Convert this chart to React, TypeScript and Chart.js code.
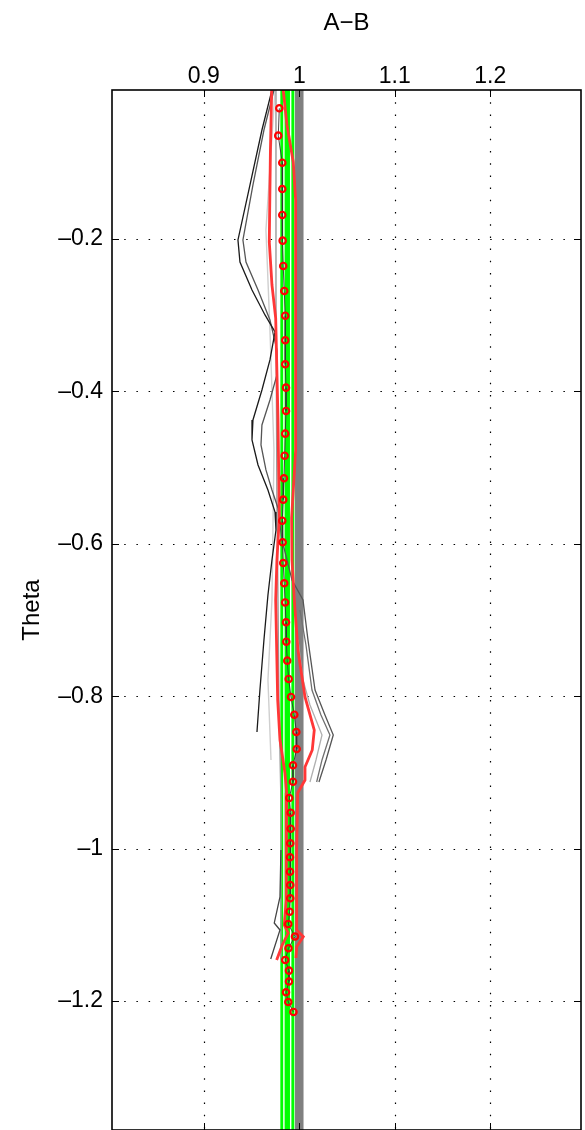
import { useEffect, useRef } from "react";
import { Chart, registerables } from "chart.js";

Chart.register(...registerables);

const FONT = "'Liberation Sans', Arial, Helvetica, sans-serif";

// Axes
const xAxisMin = 0.8039;
const xAxisMax = 1.295;
const yAxisMin = -1.3693;
const yAxisMax = -0.0045;
const xTickValues = [0.9, 1, 1.1, 1.2];
const xTickLabels = ["0.9", "1", "1.1", "1.2"];
const yTickValues = [-0.2, -0.4, -0.6, -0.8, -1, -1.2];
const yTickLabels = ["\u20130.2", "\u20130.4", "\u20130.6", "\u20130.8", "\u20131", "\u20131.2"];

// Reference bands (constant A-B values)
const greyBandX = 1.0;
const greenBandX = 0.9875;
const whiteLineXs = [0.9839, 0.991];

// Red open circles
const circleTheta = [-0.0285, -0.0644, -0.0999, -0.1344, -0.1685, -0.2022, -0.2354, -0.2682, -0.3007, -0.3329, -0.3644, -0.3951, -0.4257, -0.4555, -0.4844, -0.514, -0.5421, -0.5697, -0.598, -0.6252, -0.6518, -0.677, -0.703, -0.7285, -0.7534, -0.7774, -0.801, -0.8243, -0.847, -0.8693, -0.8907, -0.9122, -0.9336, -0.9529, -0.9739, -0.993, -1.0114, -1.0303, -1.0478, -1.0652, -1.0828, -1.099, -1.1154, -1.1308, -1.1462, -1.1602, -1.1744, -1.1885, -1.2013, -1.2144];
const circleX = [0.9791, 0.978, 0.9822, 0.9822, 0.9822, 0.9826, 0.9832, 0.9843, 0.9853, 0.9853, 0.9853, 0.9861, 0.9861, 0.9853, 0.9847, 0.984, 0.9832, 0.9822, 0.9826, 0.9832, 0.9843, 0.9852, 0.9861, 0.9864, 0.9874, 0.9889, 0.9913, 0.9948, 0.9969, 0.9973, 0.9934, 0.9934, 0.9895, 0.991, 0.991, 0.9906, 0.9903, 0.9903, 0.9906, 0.9906, 0.9899, 0.9885, 0.9955, 0.9887, 0.9853, 0.9892, 0.9892, 0.9861, 0.9885, 0.9939];

// Black curve 1
const k1Theta = [-0.0045, -0.057, -0.1291, -0.2013, -0.2302, -0.2669, -0.2997, -0.322, -0.3588, -0.3982, -0.4375, -0.4638, -0.4966, -0.5294, -0.5583, -0.5819, -0.6213, -0.6672, -0.7262, -0.7919, -0.847];
const k1X = [0.9714, 0.9609, 0.9484, 0.9358, 0.9379, 0.9505, 0.9641, 0.9746, 0.9693, 0.9609, 0.9515, 0.9505, 0.9568, 0.9672, 0.9746, 0.9756, 0.9714, 0.9672, 0.963, 0.9588, 0.9557];

// Dark grey curve 2
const k2Theta = [-0.0045, -0.057, -0.1291, -0.2013, -0.2302, -0.2669, -0.3063, -0.3457, -0.3785, -0.4113, -0.4441, -0.4703, -0.5031, -0.5294, -0.553, -0.595, -0.6475, -0.6738, -0.7262, -0.7919, -0.8247, -0.8509, -0.8837, -0.9126];
const k2X = [0.9735, 0.963, 0.9515, 0.941, 0.9442, 0.9568, 0.9693, 0.9766, 0.9766, 0.9693, 0.9609, 0.9599, 0.9651, 0.9714, 0.9777, 0.9819, 0.9924, 1.0039, 1.0091, 1.0165, 1.0269, 1.0356, 1.028, 1.0206];

// Lower dark segment
const k3Theta = [-1.0018, -1.0635, -1.0976, -1.1068, -1.1449];
const k3X = [0.9808, 0.9798, 0.9738, 0.9798, 0.9701];

// Right grey curves
const rg2Theta = [-0.6869, -0.7328, -0.7919, -0.8247, -0.8509, -0.8837, -0.9126];
const rg2X = [1.0007, 1.007, 1.0133, 1.0227, 1.0321, 1.0238, 1.0182];
const rg3Theta = [-0.7262, -0.7787, -0.8115, -0.8509, -0.8837, -0.9126];
const rg3X = [0.9986, 1.0039, 1.0112, 1.0238, 1.0175, 1.0112];

// Grey curves on the left of the band
const g1Theta = [-0.0045, -0.2801, -0.5425, -0.6738, -0.805, -0.9362, -1.1462];
const g1X = [0.9756, 0.9756, 0.9766, 0.9777, 0.9787, 0.9808, 0.9808];
const g2Theta = [-0.0045, -0.1882, -0.3194, -0.4769, -0.6738, -0.7787, -0.8837];
const g2X = [0.9746, 0.9651, 0.9693, 0.9735, 0.9714, 0.9672, 0.9704];

// Red curves
const r1Theta = [-0.0045, -0.0832, -0.2039, -0.2604, -0.3037, -0.4349, -0.5661, -0.6213, -0.6738, -0.805, -0.8575, -0.9008, -0.927, -1.0018, -1.0675, -1.1003, -1.1108, -1.1265, -1.1462];
const r1X = [0.9711, 0.9698, 0.9686, 0.9714, 0.9753, 0.9777, 0.9791, 0.9766, 0.9753, 0.9774, 0.9798, 0.985, 0.9868, 0.9866, 0.9861, 0.9843, 0.9885, 0.9822, 0.9763];
const r2Theta = [-0.0045, -0.0504, -0.099, -0.1488, -0.2801, -0.4769, -0.5661, -0.6213, -0.6738, -0.7394, -0.801, -0.8444, -0.8706, -0.8929, -0.91, -0.927, -1.0018, -1.1068, -1.1156, -1.1288, -1.1436];
const r2X = [0.9832, 0.9871, 0.9937, 0.9962, 0.9962, 0.9962, 0.992, 0.9924, 0.9948, 0.9986, 1.006, 1.0157, 1.0136, 1.006, 1.006, 0.9983, 0.9973, 0.9973, 1.0042, 0.9973, 0.9965];

const pts = (xs: number[], ys: number[]) => xs.map((x, i) => ({ x, y: ys[i] }));
const vline = (x: number) => [{ x, y: yAxisMax }, { x, y: yAxisMin }];

const framePlugin = {
  id: "matlabFrame",
  beforeDatasetsDraw(chart: any) {
    const { ctx, chartArea } = chart;
    const { left, right, top, bottom } = chartArea;
    const xs = chart.scales.x;
    const ys = chart.scales.y;
    ctx.save();
    ctx.strokeStyle = "#000";
    ctx.lineWidth = 1.2;
    ctx.setLineDash([1.5, 10.7]);
    for (const v of xTickValues) {
      const px = Math.round(xs.getPixelForValue(v)) + 0.5;
      ctx.beginPath();
      ctx.moveTo(px, top);
      ctx.lineTo(px, bottom);
      ctx.stroke();
    }
    for (const v of yTickValues) {
      const py = Math.round(ys.getPixelForValue(v)) + 0.5;
      ctx.beginPath();
      ctx.moveTo(left, py);
      ctx.lineTo(right, py);
      ctx.stroke();
    }
    ctx.restore();
  },
  afterDatasetsDraw(chart: any) {
    const { ctx, chartArea } = chart;
    const { left, right, top, bottom } = chartArea;
    const xs = chart.scales.x;
    const ys = chart.scales.y;
    const tl = 7;
    ctx.save();
    ctx.strokeStyle = "#000";
    ctx.lineWidth = 1;
    for (const v of xTickValues) {
      const px = Math.round(xs.getPixelForValue(v)) + 0.5;
      ctx.beginPath();
      ctx.moveTo(px, top);
      ctx.lineTo(px, top + tl);
      ctx.moveTo(px, bottom);
      ctx.lineTo(px, bottom - tl);
      ctx.stroke();
    }
    for (const v of yTickValues) {
      const py = Math.round(ys.getPixelForValue(v)) + 0.5;
      ctx.beginPath();
      ctx.moveTo(left, py);
      ctx.lineTo(left + tl, py);
      ctx.moveTo(right, py);
      ctx.lineTo(right - tl, py);
      ctx.stroke();
    }
    ctx.lineWidth = 1.6;
    ctx.strokeRect(left, top, right - left, bottom - top);
    ctx.restore();
  },
};

export default function App() {
  const ref = useRef<HTMLCanvasElement | null>(null);

  useEffect(() => {
    if (!ref.current) return;
    const line = (data: any[], color: string, width: number, order: number) => ({
      data,
      showLine: true,
      borderColor: color,
      borderWidth: width,
      pointRadius: 0,
      fill: false,
      tension: 0,
      order,
      clip: 0,
    });
    const datasets: any[] = [
      line(vline(greyBandX), "#808080", 8.5, 100),
      line(vline(greenBandX), "#00ff00", 14, 99),
      line(vline(whiteLineXs[0]), "#ffffff", 1.4, 98),
      line(vline(whiteLineXs[1]), "#ffffff", 1.4, 97),
      line(pts(g2X, g2Theta), "#cfcfcf", 1.4, 96),
      line(pts(g1X, g1Theta), "#9a9a9a", 1.4, 95),
      line(pts(rg3X, rg3Theta), "#b0b0b0", 1.3, 94),
      line(pts(rg2X, rg2Theta), "#707070", 1.3, 93),
      line(pts(k3X, k3Theta), "#444444", 1.3, 92),
      line(pts(k2X, k2Theta), "#555555", 1.3, 91),
      line(pts(k1X, k1Theta), "#1a1a1a", 1.3, 90),
      line(pts(circleX, circleTheta), "#333333", 0.9, 89),
      line(pts(r1X, r1Theta), "rgb(255,55,55)", 2.8, 88),
      line(pts(r2X, r2Theta), "rgb(255,55,55)", 2.8, 87),
      {
        data: pts(circleX, circleTheta),
        showLine: false,
        pointStyle: "circle",
        pointRadius: 3.2,
        pointBorderWidth: 2.2,
        pointBorderColor: "#ff0000",
        pointBackgroundColor: "rgba(255,255,255,0)",
        order: 1,
      },
    ];

    const zeroPad = (s: any) => {
      s.paddingTop = 0;
      s.paddingBottom = 0;
      s.paddingLeft = 0;
      s.paddingRight = 0;
    };

    const chart = new Chart(ref.current, {
      type: "scatter",
      data: { datasets },
      plugins: [framePlugin],
      options: {
        animation: false,
        responsive: false,
        events: [],
        layout: { autoPadding: false, padding: { left: 0, right: 4, top: 0, bottom: 0 } },
        plugins: { legend: { display: false }, tooltip: { enabled: false } },
        scales: {
          x: {
            type: "linear",
            position: "top",
            min: xAxisMin,
            max: xAxisMax,
            grid: { display: false, drawTicks: false },
            border: { display: false },
            ticks: {
              autoSkip: false,
              maxRotation: 0,
              padding: 0,
              color: "#000",
              font: { family: FONT, size: 23 },
              callback: (_v: any, i: number) => xTickLabels[i],
            },
            title: {
              display: true,
              text: "A\u2212B",
              color: "#000",
              font: { family: FONT, size: 24 },
              padding: { top: 9, bottom: 0 },
            },
            afterBuildTicks: (s: any) => {
              s.ticks = xTickValues.map((v) => ({ value: v }));
            },
            afterFit: (s: any) => {
              s.height = 90;
              zeroPad(s);
            },
          },
          y: {
            type: "linear",
            position: "left",
            min: yAxisMin,
            max: yAxisMax,
            grid: { display: false, drawTicks: false },
            border: { display: false },
            ticks: {
              autoSkip: false,
              padding: 9,
              color: "#000",
              font: { family: FONT, size: 23 },
              callback: (_v: any, i: number) => yTickLabels[i],
            },
            title: {
              display: true,
              text: "Theta",
              color: "#000",
              font: { family: FONT, size: 24 },
              padding: { top: 18, bottom: 0 },
            },
            afterBuildTicks: (s: any) => {
              s.ticks = yTickValues.map((v) => ({ value: v }));
            },
            afterFit: (s: any) => {
              s.width = 112;
              zeroPad(s);
            },
          },
        },
      } as any,
    });
    return () => chart.destroy();
  }, []);

  return (
    <div style={{ position: "absolute", left: 0, top: 0, width: 585, height: 1130, background: "#fff" }}>
      <canvas ref={ref} width={585} height={1130} style={{ display: "block" }} />
    </div>
  );
}
